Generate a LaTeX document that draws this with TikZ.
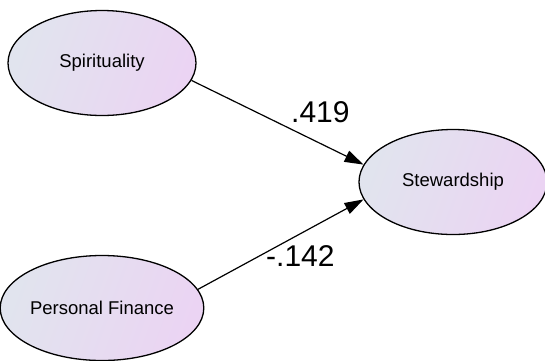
\documentclass[tikz,border=0pt]{standalone}
\usepackage{fontspec}
\setmainfont{Liberation Sans}
\usepackage{tikz}
\usetikzlibrary{shapes.geometric}
\usetikzlibrary{arrows.meta}

\definecolor{ovalleft}{RGB}{225,228,238}
\definecolor{ovalright}{RGB}{235,212,243}

\begin{document}
\begin{tikzpicture}[x=1bp, y=-1bp,
    latent/.style={ellipse, draw=black, line width=1.3bp, minimum width=188bp, minimum height=105bp, inner sep=0pt,
        left color=ovalleft, right color=ovalright, shading angle=70,
        font=\fontsize{18.5bp}{22bp}\selectfont},
    regpath/.style={-{Triangle[length=19bp, width=12bp]}, line width=1.2bp},
    weight/.style={anchor=base west, inner sep=0pt, font=\fontsize{30bp}{34bp}\selectfont}]
        % Fix the canvas
        \useasboundingbox (0,0) rectangle (545,360);
        % Draw the three constructs
        \node[latent] (spir) at (102,63) {Spirituality};
        \node[latent] (fin) at (102,308) {Personal Finance};
        \node[latent] (stew) at (453,182) {Stewardship};
        % Draw the paths
        \draw[regpath] (spir.-11) -- (stew.169);
        \draw[regpath] (fin.11) -- (stew.-169);
        % Draw the path weights
        \node[weight] (wspir) at (291,122) {.419};
        \node[weight] (wfin) at (266,266) {-.142};
    \end{tikzpicture}
\end{document}
